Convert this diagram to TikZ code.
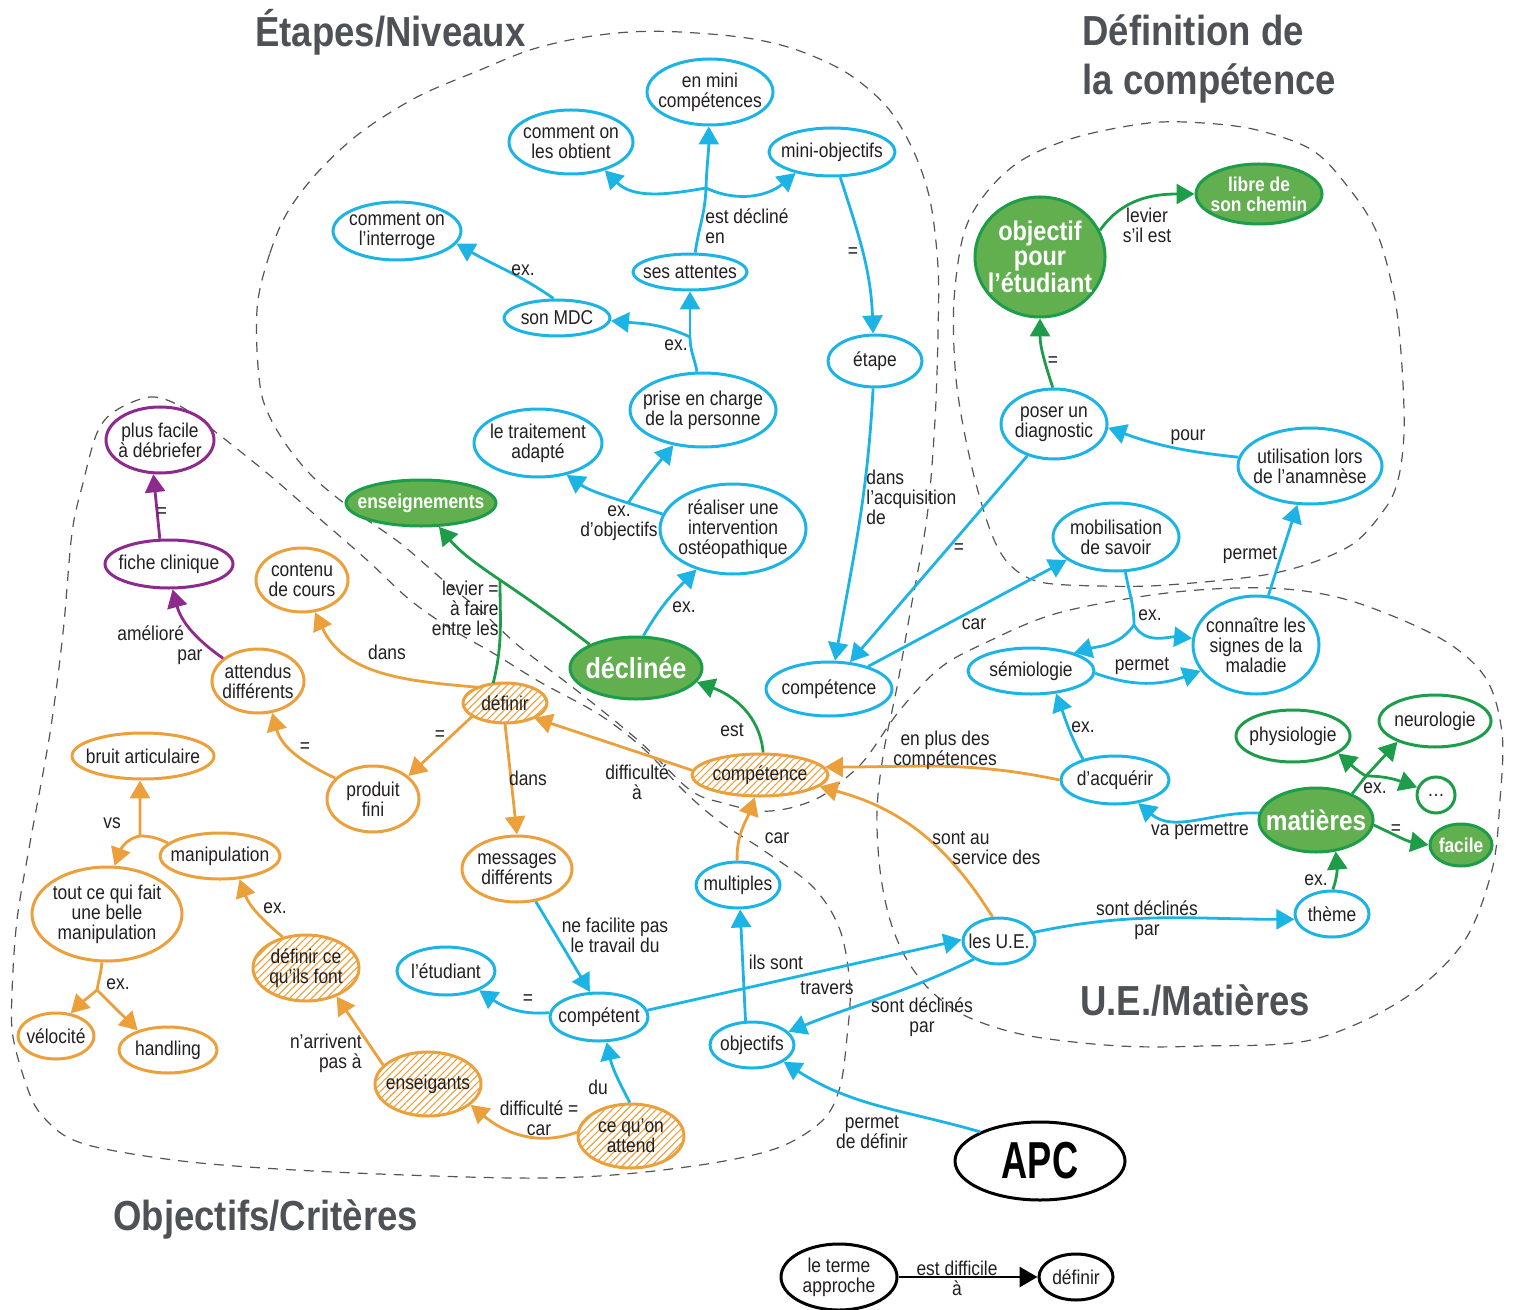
\documentclass[tikz,border=0pt]{standalone}
\usepackage{fontspec}
\usepackage{graphicx}
\setmainfont{Liberation Sans}[FakeStretch=0.87]
\usetikzlibrary{shapes.geometric,arrows.meta,patterns.meta}
\definecolor{cy}{RGB}{27,180,228}
\definecolor{orc}{RGB}{235,160,60}
\definecolor{grl}{RGB}{29,157,73}
\definecolor{grf}{RGB}{98,175,80}
\definecolor{puc}{RGB}{142,42,140}
\definecolor{txc}{RGB}{35,31,32}
\definecolor{ttc}{RGB}{78,82,86}
\definecolor{dgc}{RGB}{85,85,85}
\newcommand\cn[8]{\node[#1,minimum width=#6pt,minimum height=#7pt] (#3) at (#4,-#5) {};\node[#2] (#3t) at (#3.center) {#8};}
\tikzset{
 basen/.style={ellipse, inner sep=0pt, line width=1.5pt},
 bn/.style={basen, draw=cy, fill=white},
 on/.style={basen, draw=orc, fill=white},
 oh/.style={basen, draw=orc, preaction={fill=white}, pattern={Lines[angle=45,distance=2.6pt,line width=0.55pt]}, pattern color=orc},
 pn/.style={basen, draw=puc, fill=white},
 gn/.style={basen, draw=grl, fill=white},
 gf/.style={basen, draw=grl, fill=grf},
 kn/.style={basen, draw=black, fill=white},
 tx/.style={inner sep=0pt, align=center, text=txc, font=\fontsize{10}{10}\selectfont},
 wt/.style={inner sep=0pt, align=center, text=white, font=\bfseries\fontsize{10}{10}\selectfont},
 lab/.style={inner sep=0pt, align=center, text=txc, font=\fontsize{10}{10}\selectfont},
 ttl/.style={inner sep=0pt, text=ttc, font=\bfseries\fontsize{21}{24.5}\selectfont, align=left},
 ln/.style={line width=1.4pt},
 ea/.style={line width=1.4pt, -{Triangle[length=9pt,width=10pt]}},
 region/.style={draw=dgc, line width=0.6pt, dash pattern=on 5pt off 4pt},
}
\begin{document}
\begin{tikzpicture}[x=0.5pt,y=0.5pt]
\useasboundingbox (0,0) rectangle (1514,-1310);
% ---------- regions ----------
\draw[region] plot[smooth cycle, tension=0.55] coordinates {
 (258,-300) (270,-253) (287,-213) (317,-173) (360,-133) (417,-97) (480,-70) (530,-50) (580,-38) (630,-32) (680,-32) (747,-38) (797,-50) (847,-73) (887,-107) (913,-150) (930,-200) (938,-267) (938,-333) (935,-420) (927,-517) (910,-613) (897,-687) (884,-750) (877,-810) (880,-870) (890,-920) (907,-960) (933,-993) (970,-1018) (1030,-1036) (1120,-1046) (1203,-1046) (1311,-1040) (1402,-1000) (1463,-943) (1492,-870) (1500,-800) (1502,-733) (1485,-677) (1438,-637) (1348,-600) (1268,-588) (1167,-593) (1058,-613) (985,-643) (940,-668) (900,-710) (867,-757) (847,-777) (820,-797) (790,-808) (760,-811) (723,-803) (690,-790) (640,-742) (580,-693) (520,-647) (483,-613) (443,-580) (400,-543) (353,-510) (313,-477) (283,-440) (263,-400) (257,-350)};
\draw[region] plot[smooth cycle, tension=0.55] coordinates {
 (150,-397) (180,-406) (213,-430) (267,-473) (313,-513) (367,-560) (410,-600) (453,-630) (493,-653) (540,-682) (600,-715) (645,-750) (685,-792) (720,-822) (763,-850) (813,-887) (840,-930) (850,-987) (847,-1037) (840,-1087) (823,-1120) (780,-1147) (713,-1163) (613,-1175) (513,-1178) (333,-1172) (200,-1163) (110,-1150) (67,-1137) (40,-1113) (27,-1087) (13,-1037) (12,-993) (17,-920) (30,-843) (50,-733) (63,-633) (72,-533) (83,-483) (97,-433) (115,-411)};
\draw[region] plot[smooth cycle, tension=0.55] coordinates {
 (955,-367) (954,-300) (964,-233) (986,-193) (1022,-160) (1077,-137) (1149,-123) (1203,-123) (1257,-130) (1312,-150) (1348,-187) (1377,-233) (1395,-300) (1402,-367) (1404,-433) (1398,-480) (1384,-510) (1348,-547) (1275,-573) (1167,-585) (1100,-586) (1040,-582) (1010,-565) (992,-535) (975,-480) (962,-420)};
% ---------- titles ----------
\node[ttl, anchor=base west] (t1) at (255,-47) {Étapes/Niveaux};
\node[ttl, anchor=base west] (t2) at (1082,-95) {Définition de\\la compétence};
\node[ttl, anchor=base west] (t3) at (1080,-1015) {U.E./Matières};
\node[ttl, anchor=base west] (t4) at (113,-1230) {Objectifs/Critères};
% ---------- nodes ----------
\cn{bn}{tx}{enmini}{710}{92}{63}{33}{en mini\\compétences}
\cn{bn}{tx}{obtient}{571}{142}{62}{32}{comment on\\les obtient}
\cn{bn}{tx}{miniobj}{832}{152}{63}{24}{mini-objectifs}
\cn{bn}{tx}{interroge}{397}{231}{64}{29}{comment on\\l’interroge}
\cn{bn}{tx}{attentes}{690}{272}{57}{18}{ses attentes}
\cn{bn}{tx}{sonmdc}{557}{318}{53}{18}{son MDC}
\cn{bn}{tx}{etape}{875}{361}{47}{26}{étape}
\cn{bn}{tx}{prise}{703}{410}{73}{37}{prise en charge\\de la personne}
\cn{bn}{tx}{traitement}{538}{443}{64}{34}{le traitement\\adapté}
\cn{bn}{tx}{realiser}{733}{529}{73}{45}{réaliser une\\intervention\\ostéopathique}
\cn{bn}{tx}{compB}{829}{689}{63}{27}{compétence}
\cn{bn}{tx}{poser}{1054}{424}{53}{35}{poser un\\diagnostic}
\cn{bn}{tx}{utilisation}{1310}{466}{72}{38}{utilisation lors\\de l’anamnèse}
\cn{bn}{tx}{mobil}{1116}{537}{63}{34}{mobilisation\\de savoir}
\cn{bn}{tx}{connaitre}{1256}{645}{63}{49}{connaître les\\signes de la\\maladie}
\cn{bn}{tx}{semio}{1031}{671}{63}{23}{sémiologie}
\cn{bn}{tx}{acquerir}{1115}{780}{54}{24}{d’acquérir}
\cn{bn}{tx}{theme}{1332}{914}{37}{23}{thème}
\cn{bn}{tx}{ue}{999}{941}{36}{23}{les U.E.}
\cn{bn}{tx}{multiples}{738}{885}{42}{23}{multiples}
\cn{bn}{tx}{competent}{599}{1017}{49}{24}{compétent}
\cn{bn}{tx}{objectifs}{752}{1045}{42}{23}{objectifs}
\cn{bn}{tx}{etudiant}{446}{971}{49}{24}{l’étudiant}
\cn{gn}{tx}{physio}{1293}{736}{57}{26}{physiologie}
\cn{gn}{tx}{neuro}{1435}{721}{56}{26}{neurologie}
\cn{gn}{tx}{dots}{1436}{795}{19}{18}{…}
\cn{gf}{wt,font=\bfseries\fontsize{13.5}{12.5}\selectfont}{objectif}{1040}{257}{65}{60}{objectif\\pour\\l’étudiant}
\cn{gf}{wt}{libre}{1259}{194}{63}{30}{libre de\\son chemin}
\cn{gf}{wt,font=\bfseries\fontsize{14}{14}\selectfont}{matieres}{1316}{820}{57}{32}{matières}
\cn{gf}{wt}{facile}{1461}{845}{31}{21}{facile}
\cn{gf}{wt}{enseignements}{421}{503}{75}{23}{enseignements}
\cn{gf}{wt,font=\bfseries\fontsize{14.5}{14.5}\selectfont}{declinee}{636}{668}{66}{31}{déclinée}
\cn{on}{tx}{contenu}{302}{580}{46}{32}{contenu\\de cours}
\cn{on}{tx}{attendus}{258}{681}{46}{32}{attendus\\différents}
\cn{on}{tx}{bruit}{143}{756}{71}{23}{bruit articulaire}
\cn{on}{tx}{produit}{373}{799}{46}{33}{produit\\fini}
\cn{on}{tx}{messages}{517}{869}{55}{33}{messages\\différents}
\cn{on}{tx}{manip}{220}{856}{60}{23}{manipulation}
\cn{on}{tx}{tout}{107}{914}{75}{47}{tout ce qui fait\\une belle\\manipulation}
\cn{on}{tx}{velocite}{56}{1036}{38}{23}{vélocité}
\cn{on}{tx}{handling}{168}{1050}{49}{23}{handling}
\cn{oh}{tx}{definir}{505}{703}{42}{20}{définir}
\cn{oh}{tx}{compO}{760}{775}{68}{21}{compétence}
\cn{oh}{tx}{definirce}{306}{968}{53}{33}{définir ce\\qu’ils font}
\cn{oh}{tx}{enseigants}{428}{1084}{53}{32}{enseigants}
\cn{oh}{tx}{attend}{631}{1136}{53}{32}{ce qu’on\\attend}
\cn{pn}{tx}{facileplus}{160}{440}{54}{33}{plus facile\\à débriefer}
\cn{pn}{tx}{fiche}{169}{564}{64}{24}{fiche clinique}
\cn{kn}{tx,text=black,font=\bfseries\fontsize{26}{26}\selectfont}{apc}{1040}{1161}{85}{39}{\scalebox{0.8}[1]{APC}}
\cn{kn}{tx}{terme}{839}{1277}{58}{33}{le terme\\approche}
\cn{kn}{tx}{definirB}{1076}{1277}{37}{23}{définir}
% ---------- branch points ----------
\coordinate (b1) at (706,-188);
\coordinate (b2) at (690,-337);
\coordinate (b3) at (1134,-625);
\coordinate (b4) at (1366,-776);
\coordinate (b5) at (628,-503);
\coordinate (b6) at (500,-580);
\coordinate (b7) at (140,-836);
\coordinate (b8) at (97,-990);
% ---------- edges ----------
\draw[cy,ln] (attentes.75) to[out=82,in=-92] (b1);
\draw[cy,ea] (b1) to[out=88,in=-90] (enmini.-92);
\draw[cy,ea] (b1) to[out=190,in=-45] (obtient.-40);
\draw[cy,ea] (b1) to[out=-25,in=220] (miniobj.210);
\draw[cy,ln] (prise.99) to[out=100,in=-90] (b2);
\draw[cy,ea] (b2) -- (attentes.-90);
\draw[cy,ea] (b2) to[out=155,in=-5] (sonmdc.-3);
\draw[cy,ea] (sonmdc.100) to[out=145,in=-30] (interroge.-12);
\draw[cy,ea] (miniobj.-72) to[out=-72,in=92] (etape.94);
\draw[cy,ea] (etape.-94) to[out=-93,in=80] (compB.78);
\draw[cy,ea] (poser.-130) -- (compB.52);
\draw[cy,ea] (compB.30) -- (mobil.205);
\draw[cy,ln] (mobil.-75) to[out=-80,in=90] (b3);
\draw[cy,ea] (b3) to[out=235,in=15] (semio.23);
\draw[cy,ea] (b3) to[out=-60,in=175] (connaitre.174);
\draw[cy,ea] (semio.-2) to[out=-20,in=200] (connaitre.205);
\draw[cy,ea] (connaitre.76) -- (utilisation.-108);
\draw[cy,ea] (utilisation.173) to[out=174,in=-20] (poser.-4);
\draw[grl,ea] (poser.92) to[out=108,in=-90] (objectif.-90);
\draw[grl,ea] (objectif.24) to[out=55,in=180] (libre.180);
\draw[cy,ea] (acquerir.147) to[out=118,in=-70] (semio.-42);
\draw[cy,ea] (matieres.173) to[out=178,in=-40] (acquerir.-45);
\draw[grl,ln] (matieres.36) -- (b4);
\draw[grl,ea] (b4) -- (neuro.209);
\draw[grl,ea] (b4) to[out=150,in=-40] (physio.-21);
\draw[grl,ea] (b4) to[out=0,in=160] (dots.158);
\draw[grl,ea] (matieres.-5) to[out=-25,in=170] (facile.180);
\draw[grl,ea] (theme.88) to[out=70,in=-85] (matieres.-58);
\draw[cy,ea] (ue.14) to[out=12,in=180] (theme.188);
\draw[cy,ea] (competent.8) -- (ue.178);
\draw[cy,ea] (ue.-144) to[out=206,in=22] (objectifs.20);
\draw[cy,ea] (objectifs.105) -- (multiples.-85);
\draw[cy,ea] (apc.154) to[out=164,in=-33] (objectifs.-28);
\draw[cy,ea] (attend.92) to[out=118,in=-78] (competent.-73);
\draw[cy,ea] (competent.175) to[out=185,in=-35] (etudiant.-30);
\draw[cy,ea] (messages.-60) -- (competent.110);
\draw[cy,ea] (declinee.77) to[out=60,in=225] (realiser.228);
\draw[cy,ln] (realiser.168) -- (b5);
\draw[cy,ea] (b5) to[out=162,in=-35] (traitement.-48);
\draw[cy,ea] (b5) to[out=55,in=230] (prise.230);
\draw[grl,ln] (declinee.153) to[out=143,in=-34] (b6);
\draw[grl,ea] (b6) to[out=146,in=-50] (enseignements.-53);
\draw[grl,ln] (definir.121) to[out=76,in=-90] (b6);
\draw[grl,ea] (compO.82) to[out=95,in=-20] (declinee.-13);
\draw[orc,ea] (definir.150) to[out=175,in=-65] (contenu.-68);
\draw[orc,ea] (definir.202) -- (produit.33);
\draw[orc,ea] (definir.-90) -- (messages.90);
\draw[orc,ea] (compO.176) -- (definir.-27);
\draw[orc,ea] (produit.151) to[out=155,in=-75] (attendus.-66);
\draw[puc,ea] (attendus.147) to[out=145,in=-75] (fiche.-82);
\draw[puc,ea] (fiche.110) -- (facileplus.-101);
\draw[orc,ln] (manip.166) to[out=155,in=0] (b7);
\draw[orc,ea] (b7) -- (bruit.-97);
\draw[orc,ea] (b7) to[out=190,in=70] (tout.81);
\draw[orc,ln] (tout.-96) to[out=-95,in=80] (b8);
\draw[orc,ea] (b8) to[out=220,in=45] (velocite.57);
\draw[orc,ea] (b8) -- (handling.147);
\draw[orc,ea] (definirce.127) to[out=140,in=-70] (manip.-50);
\draw[orc,ea] (enseigants.157) -- (definirce.-43);
\draw[orc,ea] (attend.176) to[out=200,in=-40] (enseigants.-26);
\draw[orc,ea] (acquerir.180) to[out=168,in=0] (compO.7);
\draw[orc,ea] (ue.105) to[out=122,in=-15] (compO.-11);
\draw[orc,ea] (multiples.92) to[out=92,in=-110] (compO.-103);
\draw[black,ea] (terme.0) -- (definirB.180);
% ---------- labels ----------
\node[lab,anchor=west,align=left] (l1) at (705,-226) {est décliné\\en};
\node[lab] (l2) at (853,-253) {=};
\node[lab] (l3) at (523,-270) {ex.};
\node[lab] (l4) at (676,-345) {ex.};
\node[lab,anchor=west,align=left] (l5) at (866,-497) {dans\\l’acquisition\\de};
\node[lab] (l6) at (619,-523) {ex.\\d’objectifs};
\node[lab] (l7) at (684,-607) {ex.};
\node[lab,anchor=east,align=right] (l8) at (499,-608) {levier =\\à faire\\entre les};
\node[lab] (l9) at (387,-652) {dans};
\node[lab,anchor=west,align=left] (l10) at (117,-645) {amélioré\\\hspace*{30pt}par};
\node[lab] (l11) at (162,-513) {=};
\node[lab] (l12) at (440,-736) {=};
\node[lab] (l13) at (305,-748) {=};
\node[lab] (l14) at (732,-730) {est};
\node[lab] (l15) at (528,-778) {dans};
\node[lab] (l16) at (637,-782) {difficulté\\à};
\node[lab] (l17) at (112,-823) {vs};
\node[lab] (l18) at (777,-838) {car};
\node[lab] (l19) at (945,-750) {en plus des\\compétences};
\node[lab,anchor=west,align=left] (l20) at (932,-848) {sont au\\\hspace*{10pt}service des};
\node[lab] (l21) at (974,-624) {car};
\node[lab] (l22) at (959,-549) {=};
\node[lab] (l23) at (1188,-437) {pour};
\node[lab] (l24) at (1250,-555) {permet};
\node[lab] (l25) at (1150,-615) {ex.};
\node[lab] (l26) at (1142,-666) {permet};
\node[lab] (l27) at (1083,-727) {ex.};
\node[lab] (l28) at (1200,-831) {va permettre};
\node[lab] (l29) at (1375,-788) {ex.};
\node[lab] (l30) at (1396,-830) {=};
\node[lab] (l31) at (1316,-880) {ex.};
\node[lab] (l32) at (1147,-920) {sont déclinés\\par};
\node[lab] (l33) at (776,-962) {ils sont};
\node[lab] (l34) at (827,-988) {travers};
\node[lab] (l35) at (922,-1017) {sont déclinés\\par};
\node[lab] (l36) at (615,-935) {ne facilite pas\\le travail du};
\node[lab] (l37) at (528,-1000) {=};
\node[lab] (l38) at (598,-1087) {du};
\node[lab] (l39) at (539,-1118) {difficulté =\\car};
\node[lab,anchor=east,align=right] (l40) at (362,-1053) {n’arrivent\\pas à};
\node[lab] (l41) at (275,-908) {ex.};
\node[lab] (l42) at (118,-984) {ex.};
\node[lab] (l43) at (872,-1132) {permet\\de définir};
\node[lab] (l44) at (957,-1278) {est difficile\\à};
\node[lab] (l45) at (1147,-225) {levier\\s’il est};
\node[lab] (l46) at (1053,-362) {=};
\end{tikzpicture}
\end{document}
